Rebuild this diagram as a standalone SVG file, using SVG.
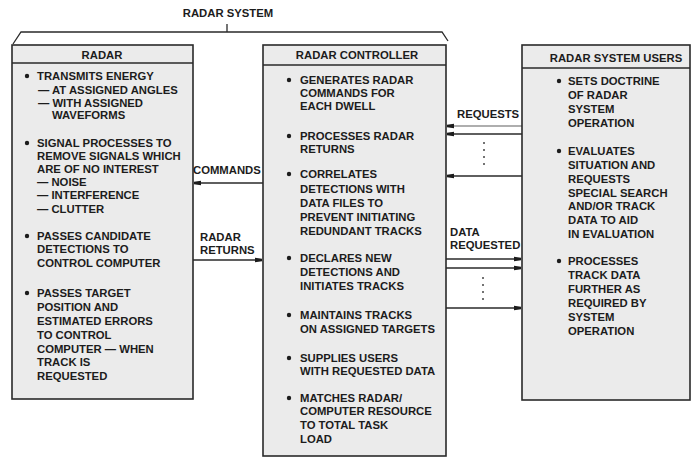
<svg xmlns="http://www.w3.org/2000/svg" width="696" height="457" viewBox="0 0 696 457">
<defs>
<style>
.box{fill:#ebebeb;stroke:#2a2a2a;stroke-width:1.6}
.hdr{fill:none;stroke:#2a2a2a;stroke-width:1.4}
text{font-family:"Liberation Sans",Arial,sans-serif;font-weight:bold;font-size:11.3px;fill:#1c1c1c}
.c{text-anchor:middle}
.ln{stroke:#2a2a2a;stroke-width:1.3;fill:none}
.dot{fill:#444}
.bul{fill:#1c1c1c}
</style>
<marker id="ah" markerWidth="8" markerHeight="6" refX="7" refY="3" orient="auto" markerUnits="userSpaceOnUse">
<path d="M0,0.8 L7,1.8 L7,4.2 L0,5.2 Z" fill="#1c1c1c"/>
</marker>
</defs>
<rect width="696" height="457" fill="#ffffff"/>

<g id="radar-system-brace">
<path class="ln" d="M13,44 L21,32 L442,32 L448,41"/>
<path class="ln" d="M227,24 L227,32"/>
<text class="c" x="228" y="17">RADAR SYSTEM</text>
</g>

<g id="radar">
<rect class="box" x="12" y="45" width="181" height="354"/>
<line class="hdr" x1="12" y1="63" x2="193" y2="63"/>
<text class="c" x="102" y="59">RADAR</text>
<circle class="bul" cx="27" cy="76" r="2.2"/>
<circle class="bul" cx="27" cy="143" r="2.2"/>
<circle class="bul" cx="27" cy="236" r="2.2"/>
<circle class="bul" cx="27" cy="293" r="2.2"/>
<text x="37" y="80">TRANSMITS ENERGY</text>
<text x="38" y="94">— AT ASSIGNED ANGLES</text>
<text x="38" y="107">— WITH ASSIGNED</text>
<text x="52" y="119">WAVEFORMS</text>
<text x="37" y="147">SIGNAL PROCESSES TO</text>
<text x="37" y="160">REMOVE SIGNALS WHICH</text>
<text x="37" y="173">ARE OF NO INTEREST</text>
<text x="37" y="186">— NOISE</text>
<text x="37" y="199">— INTERFERENCE</text>
<text x="37" y="213">— CLUTTER</text>
<text x="37" y="240">PASSES CANDIDATE</text>
<text x="37" y="253">DETECTIONS TO</text>
<text x="37" y="267">CONTROL COMPUTER</text>
<text x="37" y="297">PASSES TARGET</text>
<text x="37" y="311">POSITION AND</text>
<text x="37" y="325">ESTIMATED ERRORS</text>
<text x="37" y="339">TO CONTROL</text>
<text x="37" y="353">COMPUTER — WHEN</text>
<text x="37" y="366">TRACK IS</text>
<text x="37" y="380">REQUESTED</text>
</g>

<g id="radar-controller">
<rect class="box" x="263" y="45" width="183" height="411"/>
<line class="hdr" x1="263" y1="65" x2="446" y2="65"/>
<text class="c" x="357" y="59">RADAR CONTROLLER</text>
<circle class="bul" cx="289" cy="80" r="2.2"/>
<circle class="bul" cx="289" cy="136" r="2.2"/>
<circle class="bul" cx="289" cy="174" r="2.2"/>
<circle class="bul" cx="289" cy="258" r="2.2"/>
<circle class="bul" cx="289" cy="315" r="2.2"/>
<circle class="bul" cx="289" cy="358" r="2.2"/>
<circle class="bul" cx="289" cy="398" r="2.2"/>
<text x="300" y="84">GENERATES RADAR</text>
<text x="300" y="97">COMMANDS FOR</text>
<text x="300" y="110">EACH DWELL</text>
<text x="300" y="140">PROCESSES RADAR</text>
<text x="300" y="153">RETURNS</text>
<text x="300" y="178">CORRELATES</text>
<text x="300" y="193">DETECTIONS WITH</text>
<text x="300" y="207">DATA FILES TO</text>
<text x="300" y="221">PREVENT INITIATING</text>
<text x="300" y="235">REDUNDANT TRACKS</text>
<text x="300" y="262">DECLARES NEW</text>
<text x="300" y="276">DETECTIONS AND</text>
<text x="300" y="290">INITIATES TRACKS</text>
<text x="300" y="319">MAINTAINS TRACKS</text>
<text x="300" y="333">ON ASSIGNED TARGETS</text>
<text x="300" y="362">SUPPLIES USERS</text>
<text x="300" y="375">WITH REQUESTED DATA</text>
<text x="300" y="402">MATCHES RADAR/</text>
<text x="300" y="415">COMPUTER RESOURCE</text>
<text x="300" y="429">TO TOTAL TASK</text>
<text x="300" y="443">LOAD</text>
</g>

<g id="radar-system-users">
<rect class="box" x="522" y="45" width="168" height="355"/>
<line class="hdr" x1="522" y1="68" x2="690" y2="68"/>
<text class="c" x="616" y="62">RADAR SYSTEM USERS</text>
<circle class="bul" cx="559" cy="81" r="2.2"/>
<circle class="bul" cx="559" cy="151" r="2.2"/>
<circle class="bul" cx="559" cy="261" r="2.2"/>
<text x="568" y="85">SETS DOCTRINE</text>
<text x="568" y="99">OF RADAR</text>
<text x="568" y="113">SYSTEM</text>
<text x="568" y="127">OPERATION</text>
<text x="568" y="155">EVALUATES</text>
<text x="568" y="169">SITUATION AND</text>
<text x="568" y="183">REQUESTS</text>
<text x="568" y="197">SPECIAL SEARCH</text>
<text x="568" y="210">AND/OR TRACK</text>
<text x="568" y="224">DATA TO AID</text>
<text x="568" y="238">IN EVALUATION</text>
<text x="568" y="265">PROCESSES</text>
<text x="568" y="279">TRACK DATA</text>
<text x="568" y="293">FURTHER AS</text>
<text x="568" y="307">REQUIRED BY</text>
<text x="568" y="321">SYSTEM</text>
<text x="568" y="335">OPERATION</text>
</g>

<g id="connectors">
<line class="ln" x1="263" y1="183" x2="194" y2="183" marker-end="url(#ah)"/>
<text x="193" y="174">COMMANDS</text>
<line class="ln" x1="193" y1="260" x2="262" y2="260" marker-end="url(#ah)"/>
<text x="200" y="241">RADAR</text>
<text x="200" y="254">RETURNS</text>

<line class="ln" x1="522" y1="126" x2="447" y2="126" marker-end="url(#ah)" stroke-opacity="0.5"/>
<line class="ln" x1="522" y1="134" x2="447" y2="134" marker-end="url(#ah)"/>
<line class="ln" x1="522" y1="176" x2="447" y2="176" marker-end="url(#ah)"/>
<text x="457" y="118">REQUESTS</text>
<circle class="dot" cx="484" cy="143" r="1"/>
<circle class="dot" cx="484" cy="150" r="1"/>
<circle class="dot" cx="484" cy="157" r="1"/>
<circle class="dot" cx="484" cy="164" r="1"/>

<line class="ln" x1="446" y1="259" x2="521" y2="259" marker-end="url(#ah)"/>
<line class="ln" x1="446" y1="268" x2="521" y2="268" marker-end="url(#ah)"/>
<line class="ln" x1="446" y1="308" x2="521" y2="308" marker-end="url(#ah)"/>
<text x="450" y="236">DATA</text>
<text x="450" y="249">REQUESTED</text>
<circle class="dot" cx="483" cy="278" r="1"/>
<circle class="dot" cx="483" cy="285" r="1"/>
<circle class="dot" cx="483" cy="292" r="1"/>
<circle class="dot" cx="483" cy="299" r="1"/>
</g>
</svg>
